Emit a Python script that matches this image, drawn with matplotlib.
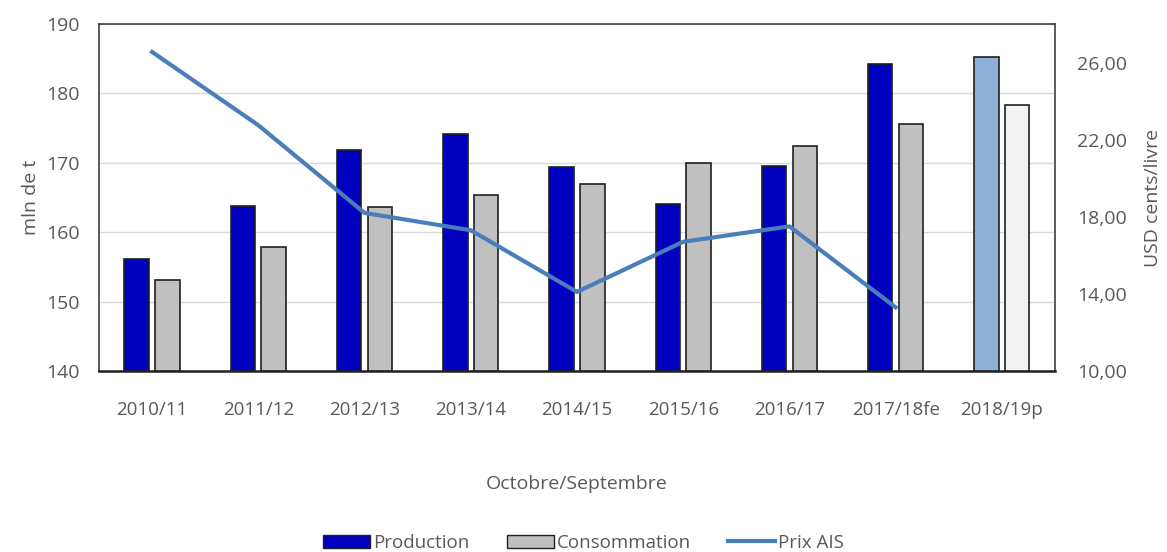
import numpy as np
import matplotlib.pyplot as plt
from matplotlib.patches import Patch
from matplotlib.lines import Line2D

plt.rcParams['font.family'] = ['Open Sans', 'DejaVu Sans']

campagnes = ["2010/11", "2011/12", "2012/13", "2013/14", "2014/15",
             "2015/16", "2016/17", "2017/18fe", "2018/19p"]
production = [156.2, 163.7, 171.8, 174.2, 169.4, 164.1, 169.6, 184.2, 185.2]
consommation = [153.1, 157.9, 163.6, 165.3, 166.9, 169.9, 172.4, 175.6, 178.4]
prix_ais = [26.55, 22.75, 18.2, 17.3, 14.1, 16.7, 17.5, 13.3]

grey = "#595959"
x = np.arange(len(campagnes))
w = 0.23

fig = plt.figure(figsize=(11.67, 5.52), dpi=100)
ax = fig.add_axes([0.0848, 0.328, 0.8192, 0.6285])

prod_colors = ["#0000C0"] * 8 + ["#8FB0D8"]
cons_colors = ["#C0C0C0"] * 8 + ["#F2F2F2"]
ax.bar(x - 0.03 - w / 2, np.array(production) - 140, w, bottom=140,
       color=prod_colors, edgecolor="#202020", linewidth=1.2, zorder=3)
ax.bar(x + 0.03 + w / 2, np.array(consommation) - 140, w, bottom=140,
       color=cons_colors, edgecolor="#202020", linewidth=1.2, zorder=3)

ax.set_ylim(140, 190)
ax.set_xlim(-0.5, len(campagnes) - 0.5)
ax.set_yticks(range(140, 191, 10))
ax.set_xticks(x)
ax.set_xticklabels(campagnes)
ax.grid(axis="y", color="#D9D9D9", linewidth=1, zorder=0)
ax.set_ylabel("mln de t", color=grey, fontsize=14, labelpad=4)
ax.set_xlabel("Octobre/Septembre", color=grey, fontsize=14, labelpad=40)
ax.tick_params(axis="y", length=0, colors=grey, labelsize=14, pad=14)
ax.tick_params(axis="x", length=0, colors=grey, labelsize=13.5, pad=22)
for s in ["left", "top", "right"]:
    ax.spines[s].set_color("#404040")
    ax.spines[s].set_linewidth(1.2)
ax.spines["bottom"].set_color("#202020")
ax.spines["bottom"].set_linewidth(1.8)

# prix sur l'axe de droite
ax2 = ax.twinx()
ax2.plot(x[:len(prix_ais)], prix_ais, color="#4A7EBB", linewidth=3, zorder=5)
ax2.set_ylim(10, 28)
ax2.set_yticks(range(10, 27, 4))
ax2.set_yticklabels([f"{v},00" for v in range(10, 27, 4)])
ax2.tick_params(axis="y", length=0, colors=grey, labelsize=14, pad=16)
ax2.set_ylabel("USD cents/livre", color=grey, fontsize=14, labelpad=12)
for s in ax2.spines.values():
    s.set_visible(False)

handles = [Patch(facecolor="#0000C0", edgecolor="#202020"),
           Patch(facecolor="#C0C0C0", edgecolor="#202020"),
           Line2D([0], [0], color="#4A7EBB", linewidth=3)]
leg = fig.legend(handles, ["Production", "Consommation", "Prix AIS"],
                 loc="lower center", bbox_to_anchor=(0.5, -0.03), ncol=3,
                 frameon=False, fontsize=13.5, handlelength=2.5, handletextpad=0.15,
                 columnspacing=2.0, handleheight=0.7)
for t in leg.get_texts():
    t.set_color(grey)

fig.savefig("out.png", dpi=100)
